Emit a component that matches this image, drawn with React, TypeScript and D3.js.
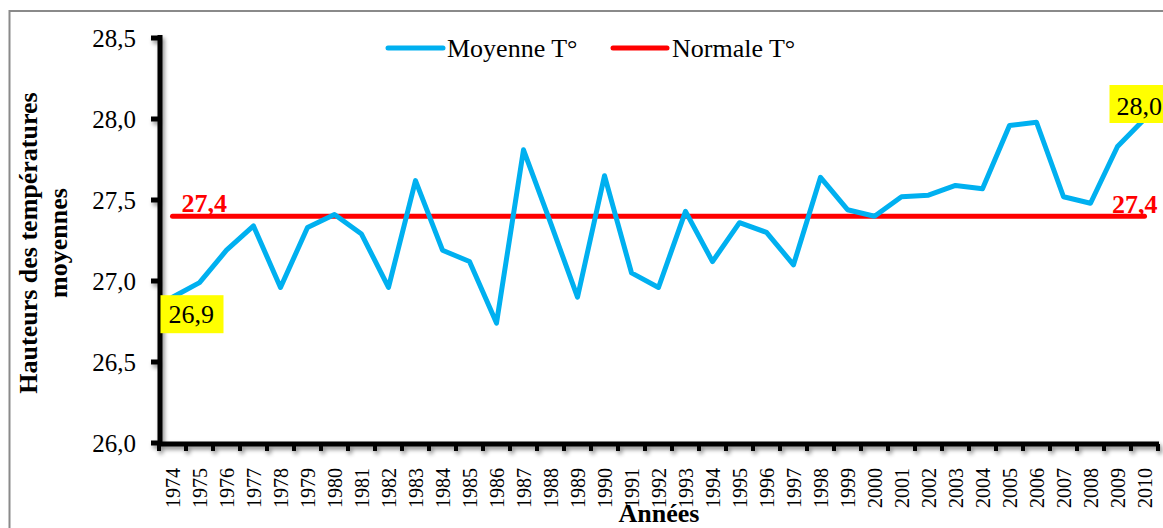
import React from "react";
import * as d3 from "d3";

const years: string[] = [
  "1974","1975","1976","1977","1978","1979","1980","1981","1982","1983",
  "1984","1985","1986","1987","1988","1989","1990","1991","1992","1993",
  "1994","1995","1996","1997","1998","1999","2000","2001","2002","2003",
  "2004","2005","2006","2007","2008","2009","2010",
];
const moyenne: number[] = [
  26.9, 26.99, 27.19, 27.34, 26.96, 27.33, 27.41, 27.29, 26.96, 27.62,
  27.19, 27.12, 26.74, 27.81, 27.36, 26.9, 27.65, 27.05, 26.96, 27.43,
  27.12, 27.36, 27.3, 27.1, 27.64, 27.44, 27.4, 27.52, 27.53, 27.59,
  27.57, 27.96, 27.98, 27.52, 27.48, 27.83, 28.0,
];
const normale = 27.4;
const yTicks: number[] = [26.0, 26.5, 27.0, 27.5, 28.0, 28.5];
const seriesNames: string[] = ["Moyenne T°", "Normale T°"];
const yTitle: string[] = ["Hauteurs des températures", "moyennes"];
const xTitle = "Années";

const W = 1163;
const H = 528;
const FONT = "'Liberation Serif', 'Times New Roman', serif";
const BLUE = "#00B0F0";
const RED = "#FF0000";

const fmt = (v: number) => v.toFixed(1).replace(".", ",");

export default function App() {
  const x = d3.scaleBand<string>().domain(years).range([159, 1158]).padding(0);
  const y = d3.scaleLinear().domain([26, 28.5]).range([443, 38]);
  const cx = (yr: string) => (x(yr) as number) + x.bandwidth() / 2;

  const line = d3
    .line<number>()
    .x((_, i) => cx(years[i]))
    .y((d) => y(d));

  const first = years[0];
  const last = years[years.length - 1];
  const firstV = moyenne[0];
  const lastV = moyenne[moyenne.length - 1];
  const boundaries = years.map((yr) => x(yr) as number).concat([x.range()[1]]);

  return (
    <div style={{ position: "fixed", left: 0, top: 0, width: W, height: H, background: "#fff" }}>
      <svg width={W} height={H} style={{ display: "block" }} fontFamily={FONT}>
        <defs>
          <filter id="shadow" x="-5%" y="-5%" width="110%" height="120%">
            <feDropShadow dx="2" dy="3" stdDeviation="2" floodColor="#000" floodOpacity="0.45" />
          </filter>
        </defs>
        <rect x={0} y={0} width={W} height={H} fill="#fff" />
        <rect x={9.5} y={11} width={1300} height={700} fill="none" stroke="#8a8a8a" strokeWidth={2} />

        {/* axes */}
        <g filter="url(#shadow)">
          <line x1={160} x2={160} y1={35} y2={446} stroke="#000" strokeWidth={5} />
          {yTicks.map((t) => (
            <line key={"yt" + t} x1={151} x2={160} y1={y(t)} y2={y(t)} stroke="#000" strokeWidth={5} />
          ))}
          <line x1={157.5} x2={1159} y1={444} y2={444} stroke="#000" strokeWidth={5} />
          {boundaries.map((b, i) => (
            <line key={"xt" + i} x1={b} x2={b} y1={444} y2={451} stroke="#000" strokeWidth={4} />
          ))}
        </g>

        {/* y tick labels */}
        {yTicks.map((t) => (
          <text key={"yl" + t} x={136} y={y(t) + 9} textAnchor="end" fontSize={25} fill="#000">
            {fmt(t)}
          </text>
        ))}

        {/* x tick labels */}
        {years.map((yr) => (
          <text
            key={"xl" + yr}
            transform={`translate(${cx(yr) + 7},468) rotate(-90)`}
            textAnchor="end"
            fontSize={20}
            fill="#000"
          >
            {yr}
          </text>
        ))}

        {/* y title */}
        <g transform="translate(0,243) rotate(-90)" fontWeight="bold" fontSize={26} textAnchor="middle">
          <text x={0} y={37}>{yTitle[0]}</text>
          <text x={0} y={67}>{yTitle[1]}</text>
        </g>

        {/* x title */}
        <text x={659} y={522} textAnchor="middle" fontWeight="bold" fontSize={26}>
          {xTitle}
        </text>

        {/* normale line */}
        <line
          x1={cx(first)}
          x2={cx(last)}
          y1={y(normale)}
          y2={y(normale)}
          stroke={RED}
          strokeWidth={5}
          strokeLinecap="round"
        />

        {/* moyenne line */}
        <path d={line(moyenne) || ""} fill="none" stroke={BLUE} strokeWidth={5} strokeLinejoin="round" strokeLinecap="round" />

        {/* red labels */}
        <text x={cx(first) + 9} y={y(normale) - 4} fill={RED} fontWeight="bold" fontSize={26}>
          {fmt(normale)}
        </text>
        <text x={cx(last) + 13} y={y(normale) - 3} textAnchor="end" fill={RED} fontWeight="bold" fontSize={26}>
          {fmt(normale)}
        </text>

        {/* yellow data labels */}
        <rect x={cx(first) - 12} y={y(firstV) - 2} width={63} height={38} fill="#FFFF00" />
        <text x={cx(first) - 4} y={y(firstV) + 26} fontSize={26} fill="#000">
          {fmt(firstV)}
        </text>
        <rect x={cx(last) - 35} y={y(lastV) - 34} width={70} height={38} fill="#FFFF00" />
        <text x={cx(last) - 28} y={y(lastV) - 4} fontSize={26} fill="#000">
          {fmt(lastV)}
        </text>

        {/* legend */}
        <line x1={388} x2={443} y1={48} y2={48} stroke={BLUE} strokeWidth={5} strokeLinecap="round" />
        <text x={447} y={57} fontSize={26} fill="#000">{seriesNames[0]}</text>
        <line x1={613} x2={667} y1={48} y2={48} stroke={RED} strokeWidth={5} strokeLinecap="round" />
        <text x={672} y={57} fontSize={26} fill="#000">{seriesNames[1]}</text>
      </svg>
    </div>
  );
}
